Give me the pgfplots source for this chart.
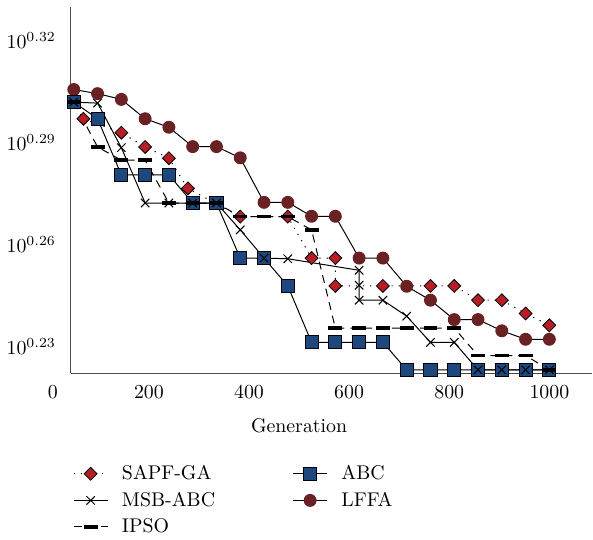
\documentclass[border=0pt]{standalone}
\usepackage{pgfplots}
\pgfplotsset{compat=1.18}
\definecolor{sapfred}{RGB}{180,30,36}
\definecolor{abcblue}{RGB}{30,72,125}
\definecolor{lffared}{RGB}{105,33,35}
\pgfplotsset{
  sapf/.style={black, line width=0.5pt, dash pattern=on 0.6pt off 3pt, mark=square*, mark size=2.3pt,
    mark options={rotate=45, solid, fill=sapfred, draw=black, line width=0.4pt}},
  abc/.style={black, line width=0.5pt, solid, mark=square*, mark size=3.3pt,
    mark options={solid, fill=abcblue, draw=black, line width=0.5pt}},
  msb/.style={black, line width=0.5pt, solid, mark=x, mark size=3pt, mark options={solid}},
  lffa/.style={black, line width=0.5pt, solid, mark=*, mark size=3pt,
    mark options={solid, fill=lffared, draw=lffared}},
  ipso/.style={black, line width=0.5pt, dash pattern=on 4pt off 3pt, mark=-, mark size=3.5pt,
    mark options={solid, line width=1.8pt}},
}
\begin{document}
\begin{tikzpicture}
\begin{axis}[name=ax, scale only axis, width=262bp, height=184bp,
  xmin=44.1, xmax=1086, ymin=0.2221, ymax=0.3299,
  axis lines=left,
  axis line style={-, draw=black!70, line width=0.6pt},
  xtick={200,400,600,800,1000},
  xticklabel style={yshift=-2.5pt, /pgf/number format/1000 sep={}},
  ytick={0.23,0.26,0.29,0.32},
  yticklabels={$10^{0.23}$,$10^{0.26}$,$10^{0.29}$,$10^{0.32}$},
  major tick length=0pt,
  yticklabel style={xshift=-4bp},
  clip=false,
  legend columns=2,
  legend cell align=left,
  legend style={draw=none, fill=none, at={(0,0)}, anchor=north west, xshift=1bp, yshift=-44bp,
    inner sep=0pt, row sep=0.75bp,
    /tikz/column 1/.style={column sep=5bp},
    /tikz/column 2/.style={column sep=37bp},
    /tikz/column 3/.style={column sep=5bp},
    font=\normalsize},
]
\addplot[lffa, forget plot] coordinates {
(50,0.3056) (97.5,0.3044) (145,0.3027) (192.5,0.2970) (240,0.2945) (287.5,0.2888) (335,0.2888)
(382.5,0.2855) (430,0.2724) (477.5,0.2724) (525,0.2683) (572.5,0.2683) (620,0.2560) (667.5,0.2560)
(715,0.2477) (762.5,0.2436) (810,0.2379) (857.5,0.2379) (905,0.2346) (952.5,0.2321) (1000,0.2321)};
\addplot[sapf, forget plot] coordinates {
(69.4,0.2970) (145,0.2929) (192.5,0.2887) (240,0.2854) (278,0.2765) (382.5,0.2682) (477.5,0.2682)
(525,0.2560) (572.5,0.2560) (572.5,0.2478) (667.5,0.2478) (762.5,0.2478) (810,0.2478)
(857.5,0.2436) (905,0.2436) (952.5,0.2397) (1000,0.2362)};
\addplot[abc, forget plot] coordinates {
(50,0.3019) (97.5,0.2970) (145,0.2805) (192.5,0.2805) (240,0.2805) (287.5,0.2722) (335,0.2722)
(382.5,0.2560) (430,0.2560) (477.5,0.2478) (525,0.2312) (572.5,0.2312) (620,0.2312) (667.5,0.2312)
(715,0.2231) (762.5,0.2231) (810,0.2231) (857.5,0.2231) (905,0.2231) (952.5,0.2231) (1000,0.2231)};
\addplot[msb, forget plot] coordinates {
(50,0.3019) (97.5,0.3016) (145,0.2885) (192.5,0.2722) (240,0.2722) (287.5,0.2722) (335,0.2722)
(382.5,0.2643) (430,0.2560) (477.5,0.2558) (620,0.2524) (620,0.2480) (620,0.2436) (667.5,0.2436)
(715,0.2389) (762.5,0.2312) (810,0.2312) (857.5,0.2231) (905,0.2231) (952.5,0.2231) (1000,0.2231)};
\addplot[ipso, forget plot] coordinates {
(50,0.3019) (97.5,0.2887) (145,0.2848) (192.5,0.2848) (240,0.2722) (287.5,0.2722) (335,0.2722)
(382.5,0.2682) (430,0.2682) (477.5,0.2682) (525,0.2643) (572.5,0.2354) (620,0.2354) (667.5,0.2354)
(715,0.2354) (762.5,0.2354) (810,0.2354) (857.5,0.2273) (905,0.2273) (952.5,0.2273) (1000,0.2231)};
\addlegendimage{sapf}\addlegendentry{SAPF-GA}
\addlegendimage{abc}\addlegendentry{ABC}
\addlegendimage{msb}\addlegendentry{MSB-ABC}
\addlegendimage{lffa}\addlegendentry{LFFA}
\addlegendimage{ipso}\addlegendentry{IPSO}
\node[anchor=north, inner sep=0.333em, yshift=-2.5pt] at (axis cs:8.3,0.2221) {$0$};
\node[anchor=north, yshift=-19bp] at (axis cs:500,0.2221) {Generation};
\end{axis}
\path ([shift={(-34.5bp,-82bp)}]ax.south west) rectangle ([shift={(262bp,187.5bp)}]ax.south west);
\end{tikzpicture}
\end{document}
